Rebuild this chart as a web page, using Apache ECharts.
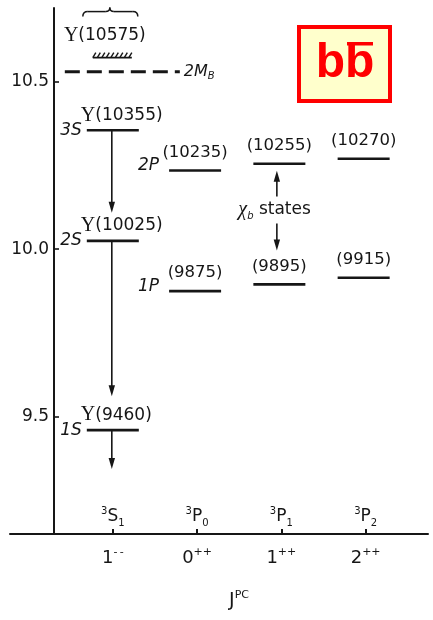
<!DOCTYPE html>
<html>
<head>
<meta charset="utf-8">
<script src="https://cdn.jsdelivr.net/npm/echarts@6/dist/echarts.min.js"></script>
<style>
html, body { margin: 0; padding: 0; background: #fff; }
#chart { width: 433px; height: 620px; }
</style>
</head>
<body>
<div id="chart"></div>
<script>
// columns: spectroscopic term and J^PC
const termLetters = ['S', 'P', 'P', 'P']
const termJ = ['1', '0', '1', '2']
const jpcJ = ['1', '0', '1', '2']
const jpcPC = ['-\u2009-', '++', '++', '++']

// Υ(nS) states, MeV
const sNames = ['1S', '2S', '3S']
const sMasses = [9460, 10025, 10355]
// χb states, MeV, J = 0, 1, 2
const pNames = ['1P', '2P']
const p1Masses = [9875, 9895, 9915]
const p2Masses = [10235, 10255, 10270]
// Υ(10575) and the open-bottom threshold, MeV
const upsilon4S = 10575
const twoMB = 10530
// arrows [from, to], MeV
const sArrows = [[10355, 10109], [10025, 9561], [9460, 9344]]
const chiArrows = [[10157, 10234], [10077, 9996]]
// y axis ticks, GeV
const yTicks = [9.5, 10.0, 10.5]

const ink = '#161616'
const sans = 'DejaVu Sans'
const serif = 'Liberation Serif'
const colX = c => 0.7 + c
const colValues = termLetters.map((_, i) => colX(i))

// one row per level line
const levels = []
sMasses.forEach((m, i) => levels.push({ col: 0, mass: m, text: '{u|Υ}(' + m + ')', prefix: sNames[i] }))
p1Masses.forEach((m, i) => levels.push({ col: i + 1, mass: m, text: '(' + m + ')', prefix: i === 0 ? pNames[0] : '' }))
p2Masses.forEach((m, i) => levels.push({ col: i + 1, mass: m, text: '(' + m + ')', prefix: i === 0 ? pNames[1] : '' }))

const arrows = []
sArrows.forEach(a => arrows.push({ col: 0, from: a[0], to: a[1] }))
chiArrows.forEach(a => arrows.push({ col: 2, from: a[0], to: a[1] }))

const upsRich = { u: { fontFamily: serif, fontSize: 20, fill: ink } }

function renderLevel(params, api) {
  const lv = levels[params.dataIndex]
  const p = api.coord([api.value(0), api.value(1)])
  const isS = lv.col === 0
  const cx = isS ? p[0] : p[0] - 2
  const children = [{
    type: 'line',
    shape: { x1: cx - 26, y1: p[1], x2: cx + 26, y2: p[1] },
    style: { stroke: ink, lineWidth: 2.6 }
  }]
  if (isS) {
    children.push({
      type: 'text',
      style: { text: lv.text, x: cx - 32, y: p[1] - 15, align: 'left', verticalAlign: 'middle', fontFamily: sans, fontSize: 17, fill: ink, rich: upsRich }
    })
    children.push({
      type: 'text',
      style: { text: lv.prefix, x: cx - 31, y: p[1], align: 'right', verticalAlign: 'middle', fontFamily: sans, fontStyle: 'italic', fontSize: 17, fill: ink }
    })
  } else {
    children.push({
      type: 'text',
      style: { text: lv.text, x: cx, y: p[1] - 18, align: 'center', verticalAlign: 'middle', fontFamily: sans, fontSize: 16.5, fill: ink }
    })
    if (lv.prefix) {
      children.push({
        type: 'text',
        style: { text: lv.prefix, x: cx - 36, y: p[1] - 5, align: 'right', verticalAlign: 'middle', fontFamily: sans, fontStyle: 'italic', fontSize: 17, fill: ink }
      })
    }
  }
  return { type: 'group', children }
}

function renderArrow(params, api) {
  const a = arrows[params.dataIndex]
  const p0 = api.coord([api.value(0), api.value(1)])
  const p1 = api.coord([api.value(0), api.value(2)])
  const x = a.col === 0 ? p0[0] - 1 : p0[0] - 4.5
  const dir = p1[1] > p0[1] ? 1 : -1
  return {
    type: 'group',
    children: [
      { type: 'line', shape: { x1: x, y1: p0[1], x2: x, y2: p1[1] - dir * 6 }, style: { stroke: ink, lineWidth: 1.6 } },
      { type: 'polygon', shape: { points: [[x, p1[1]], [x - 3.2, p1[1] - dir * 11], [x + 3.2, p1[1] - dir * 11]] }, style: { fill: ink } }
    ]
  }
}

function renderThreshold(params, api) {
  const p = api.coord([api.value(0), api.value(1)])
  const x = p[0]
  const y = p[1]
  const children = [
    { type: 'line', shape: { x1: x - 20, y1: y + 1, x2: x + 19, y2: y + 1 }, style: { stroke: ink, lineWidth: 1.8 } }
  ]
  for (let hx = x - 20; hx <= x + 16; hx += 4.5) {
    children.push({ type: 'line', shape: { x1: hx, y1: y + 1, x2: hx + 3, y2: y - 4 }, style: { stroke: ink, lineWidth: 1.4 } })
  }
  children.push({
    type: 'text',
    style: { text: '{u|Υ}(' + upsilon4S + ')', x: x - 8, y: y - 21, align: 'center', verticalAlign: 'middle', fontFamily: sans, fontSize: 17, fill: ink, rich: upsRich }
  })
  // curly brace above the label
  const by = y - 45
  const bx0 = x - 30
  const bx1 = x + 25
  const bm = x - 3
  const brace = { stroke: ink, lineWidth: 1.5, fill: null }
  children.push(
    { type: 'bezierCurve', shape: { x1: bx0, y1: by + 5, cpx1: bx0, cpy1: by, x2: bx0 + 5, y2: by }, style: brace },
    { type: 'line', shape: { x1: bx0 + 5, y1: by, x2: bm - 4, y2: by }, style: brace },
    { type: 'bezierCurve', shape: { x1: bm - 4, y1: by, cpx1: bm, cpy1: by, x2: bm, y2: by - 4 }, style: brace },
    { type: 'bezierCurve', shape: { x1: bm, y1: by - 4, cpx1: bm, cpy1: by, x2: bm + 4, y2: by }, style: brace },
    { type: 'line', shape: { x1: bm + 4, y1: by, x2: bx1 - 5, y2: by }, style: brace },
    { type: 'bezierCurve', shape: { x1: bx1 - 5, y1: by, cpx1: bx1, cpy1: by, x2: bx1, y2: by + 5 }, style: brace }
  )
  return { type: 'group', children }
}

function renderTwoMB(params, api) {
  const p = api.coord([api.value(0), api.value(1)])
  return {
    type: 'group',
    children: [
      { type: 'line', shape: { x1: p[0] - 48, y1: p[1], x2: p[0] + 67, y2: p[1] }, style: { stroke: ink, lineWidth: 3, lineDash: [15, 7] } },
      {
        type: 'text',
        style: {
          text: '{m|2M}{s|B}', x: p[0] + 71, y: p[1], align: 'left', verticalAlign: 'middle', fill: ink,
          rich: {
            m: { fontFamily: sans, fontStyle: 'italic', fontSize: 16, lineHeight: 20, fill: ink },
            s: { fontFamily: sans, fontStyle: 'italic', fontSize: 10, lineHeight: 10, verticalAlign: 'bottom', fill: ink }
          }
        }
      }
    ]
  }
}

function renderChiText(params, api) {
  const p = api.coord([api.value(0), api.value(1)])
  return {
    type: 'text',
    style: {
      text: '{c|χ}{b|b} states', x: p[0] - 43, y: p[1], align: 'left', verticalAlign: 'middle',
      fontFamily: sans, fontSize: 17, lineHeight: 22, fill: ink,
      rich: {
        c: { fontFamily: serif, fontStyle: 'italic', fontSize: 20, lineHeight: 22, fill: ink },
        b: { fontFamily: sans, fontStyle: 'italic', fontSize: 10, lineHeight: 10, verticalAlign: 'bottom', fill: ink }
      }
    }
  }
}

const chart = echarts.init(document.getElementById('chart'))

chart.setOption({
  animation: false,
  backgroundColor: '#fff',
  grid: { left: 10, right: 5, top: 8, bottom: 86, containLabel: false, outerBoundsMode: 'none' },
  xAxis: [
    {
      type: 'value',
      min: -0.52,
      max: 4.44,
      axisLine: { onZero: false, lineStyle: { color: ink, width: 2 } },
      axisTick: { customValues: colValues, inside: true, length: 5, lineStyle: { color: ink, width: 2 } },
      axisLabel: {
        customValues: colValues,
        formatter: v => {
          const i = Math.round(v - 0.7)
          return jpcJ[i] + '{sup|' + jpcPC[i] + '}'
        },
        margin: 13,
        color: ink,
        fontFamily: sans,
        fontSize: 18,
        lineHeight: 22,
        rich: { sup: { fontFamily: sans, fontSize: 11, lineHeight: 12, verticalAlign: 'top', color: ink } }
      },
      splitLine: { show: false },
      name: 'J{sup|PC}',
      nameLocation: 'middle',
      nameGap: 56,
      nameTextStyle: {
        color: ink,
        fontFamily: sans,
        fontSize: 19,
        lineHeight: 22,
        padding: [0, 0, 0, 40],
        rich: { sup: { fontFamily: sans, fontSize: 11, lineHeight: 12, verticalAlign: 'top', color: ink } }
      }
    },
    {
      type: 'value',
      min: -0.52,
      max: 4.44,
      position: 'bottom',
      axisLine: { show: false },
      axisTick: { show: false },
      splitLine: { show: false },
      axisLabel: {
        inside: true,
        customValues: colValues,
        formatter: v => {
          const i = Math.round(v - 0.7)
          return '{sup|3}' + termLetters[i] + '{sub|' + termJ[i] + '}'
        },
        margin: 6,
        color: ink,
        fontFamily: sans,
        fontSize: 17,
        lineHeight: 22,
        rich: {
          sup: { fontFamily: sans, fontSize: 10, lineHeight: 12, verticalAlign: 'top', color: ink },
          sub: { fontFamily: sans, fontSize: 10, lineHeight: 10, verticalAlign: 'bottom', color: ink }
        }
      }
    }
  ],
  yAxis: {
    type: 'value',
    min: 9.15,
    max: 10.72,
    position: 'left',
    offset: -44,
    axisLine: { onZero: false, lineStyle: { color: ink, width: 2 } },
    axisTick: { customValues: yTicks, inside: true, length: 5, lineStyle: { color: ink, width: 1.6 } },
    axisLabel: {
      customValues: yTicks,
      formatter: v => v.toFixed(1),
      margin: 5,
      color: ink,
      fontFamily: sans,
      fontSize: 17
    },
    splitLine: { show: false }
  },
  graphic: [
    { type: 'rect', shape: { x: 299, y: 27, width: 91, height: 74 }, style: { fill: '#ffffcc', stroke: '#ff0000', lineWidth: 4 } },
    { type: 'text', style: { text: 'bb', x: 345, y: 64, align: 'center', verticalAlign: 'middle', fontFamily: 'Liberation Sans', fontWeight: 'bold', fontSize: 48, fill: '#ff0000' } },
    { type: 'rect', shape: { x: 347, y: 42, width: 26, height: 3.5 }, style: { fill: '#ff0000' } }
  ],
  series: [
    {
      type: 'custom',
      renderItem: renderLevel,
      encode: { x: 0, y: 1 },
      data: levels.map(lv => [colX(lv.col), lv.mass / 1000])
    },
    {
      type: 'custom',
      renderItem: renderArrow,
      encode: { x: 0, y: [1, 2] },
      data: arrows.map(a => [colX(a.col), a.from / 1000, a.to / 1000])
    },
    {
      type: 'custom',
      renderItem: renderThreshold,
      encode: { x: 0, y: 1 },
      data: [[colX(0), upsilon4S / 1000]]
    },
    {
      type: 'custom',
      renderItem: renderTwoMB,
      encode: { x: 0, y: 1 },
      data: [[colX(0), twoMB / 1000]]
    },
    {
      type: 'custom',
      renderItem: renderChiText,
      encode: { x: 0, y: 1 },
      data: [[colX(2), (chiArrows[0][0] + chiArrows[1][0]) / 2000]]
    }
  ]
})
</script>
</body>
</html>
